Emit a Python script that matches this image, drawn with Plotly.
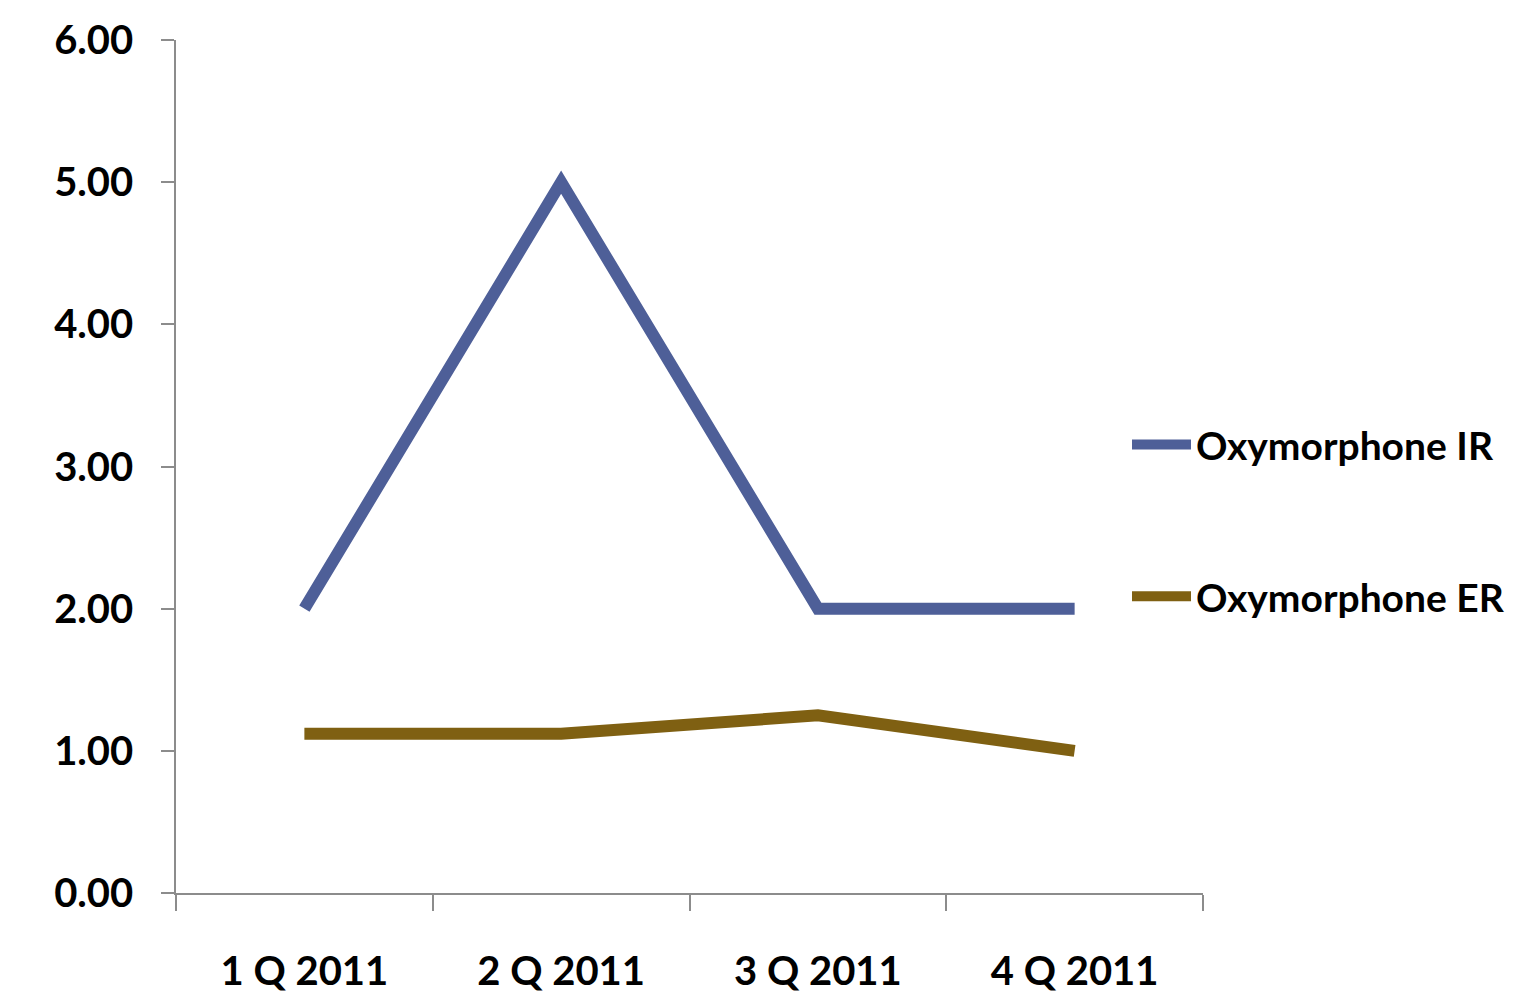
import plotly.graph_objects as go

categories = ["1 Q 2011", "2 Q 2011", "3 Q 2011", "4 Q 2011"]
ir_values = [2.00, 5.00, 2.00, 2.00]
er_values = [1.12, 1.12, 1.25, 1.00]
y_ticks = [0, 1, 2, 3, 4, 5, 6]
y_tick_labels = ["0.00", "1.00", "2.00", "3.00", "4.00", "5.00", "6.00"]

FONT = "Lato"
fig = go.Figure()
fig.add_trace(go.Scatter(x=categories, y=ir_values, mode="lines", name="Oxymorphone IR",
                         legendgroup="ir",
                         line=dict(color="#4E5F98", width=12)))
fig.add_trace(go.Scatter(x=categories, y=er_values, mode="lines", name="Oxymorphone ER",
                         legendgroup="er",
                         line=dict(color="#7F6012", width=12)))

fig.update_layout(
    width=1515, height=997,
    margin=dict(l=176, r=312, t=40, b=104, autoexpand=False),
    paper_bgcolor="white", plot_bgcolor="white",
    font=dict(family=FONT, size=40, color="black"),
    showlegend=True,
    legend=dict(x=0.926, xanchor="left", y=0.563, yanchor="top",
                font=dict(family=FONT, size=39, color="black", weight="bold"),
                tracegroupgap=98, traceorder="grouped", itemwidth=59,
                bgcolor="rgba(0,0,0,0)"),
    xaxis=dict(type="category", range=[-0.5, 3.5], showgrid=False, zeroline=False,
               showline=True, linecolor="#8c8c8c", linewidth=1.5,
               ticks="outside", tickson="boundaries", ticklen=16, tickcolor="#8c8c8c",
               tickwidth=1.5, ticklabelstandoff=42,
               tickfont=dict(family=FONT, size=40, color="black", weight="bold")),
    yaxis=dict(range=[0, 6], tickvals=y_ticks, ticktext=y_tick_labels, showgrid=False,
               zeroline=False, showline=True, linecolor="#8c8c8c", linewidth=1.5,
               ticks="outside", ticklen=13, tickcolor="#8c8c8c", tickwidth=1.5,
               ticklabelstandoff=20,
               tickfont=dict(family=FONT, size=40, color="black", weight="bold")),
)

fig.write_html("out.html")
